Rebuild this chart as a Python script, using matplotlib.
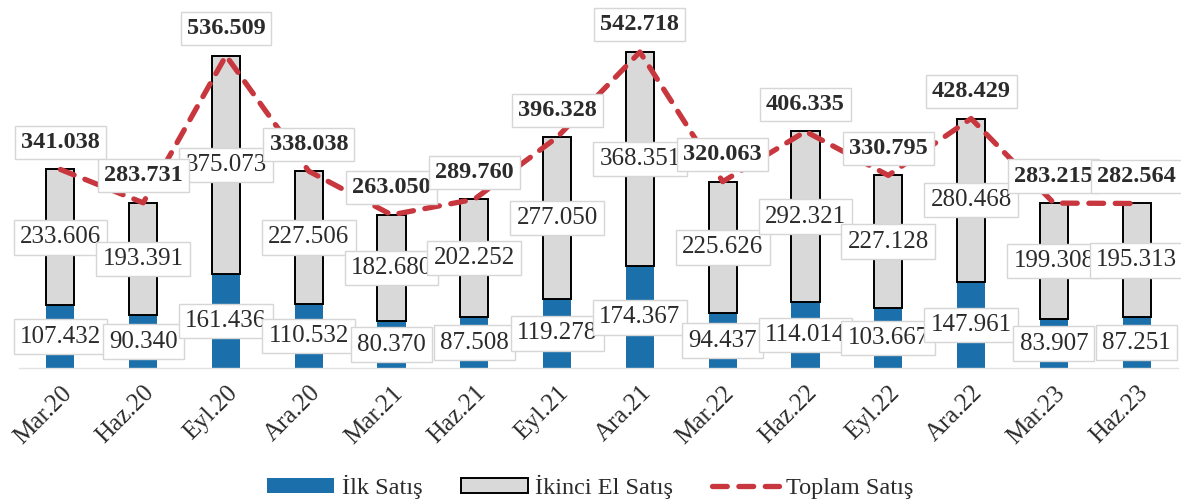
import matplotlib
matplotlib.use("Agg")
import matplotlib.pyplot as plt
import numpy as np

# veriler (bin adet)
donemler = ["Mar.20", "Haz.20", "Eyl.20", "Ara.20", "Mar.21", "Haz.21", "Eyl.21",
            "Ara.21", "Mar.22", "Haz.22", "Eyl.22", "Ara.22", "Mar.23", "Haz.23"]
ilk_satis = [107.432, 90.340, 161.436, 110.532, 80.370, 87.508, 119.278,
             174.367, 94.437, 114.014, 103.667, 147.961, 83.907, 87.251]
ikinci_el = [233.606, 193.391, 375.073, 227.506, 182.680, 202.252, 277.050,
             368.351, 225.626, 292.321, 227.128, 280.468, 199.308, 195.313]
toplam = [341.038, 283.731, 536.509, 338.038, 263.050, 289.760, 396.328,
          542.718, 320.063, 406.335, 330.795, 428.429, 283.215, 282.564]

MAVI = "#1b6fab"
GRI = "#d9d9d9"
KIRMIZI = "#c8363e"
YAZI = "#2b2b2b"

plt.rcParams["font.family"] = ["Liberation Serif", "DejaVu Serif"]

fig = plt.figure(figsize=(11.81, 5.04), dpi=100)
ax = fig.add_axes([0.0161, 0.2698, 0.9814, 0.7302])

x = np.arange(len(donemler))
genislik = 0.34

b1 = ax.bar(x, ilk_satis, genislik, color=MAVI, zorder=2, label="İlk Satış")
b2 = ax.bar(x, ikinci_el, genislik, bottom=ilk_satis, color=GRI, edgecolor="black",
            linewidth=1.4, zorder=2, label="İkinci El Satış")
l1, = ax.plot(x, toplam, color=KIRMIZI, linewidth=3.8, linestyle=(0, (2.8, 2.2)),
              dash_capstyle="round", zorder=3, label="Toplam Satış")

kutu = dict(boxstyle="square,pad=0.25", facecolor="white", edgecolor="#d6d6d6", linewidth=1)

# etiketler
for i in range(len(donemler)):
    ax.text(x[i], ilk_satis[i] / 2, f"{ilk_satis[i]:.3f}", ha="center", va="center",
            fontsize=18, color=YAZI, bbox=kutu, zorder=5)
    ax.text(x[i], ilk_satis[i] + ikinci_el[i] / 2, f"{ikinci_el[i]:.3f}", ha="center",
            va="center", fontsize=18, color=YAZI, bbox=kutu, zorder=5)
    ax.annotate(f"{toplam[i]:.3f}", (x[i], toplam[i]), xytext=(0, 19.5),
                textcoords="offset points", ha="center", va="center", fontsize=17.5,
                fontweight="bold", color=YAZI, bbox=kutu, zorder=6)

ax.set_xlim(-0.5, len(donemler) - 0.5)
ax.set_ylim(0, 632)
ax.set_yticks([])
ax.set_xticks(x)
ax.set_xticklabels(donemler, rotation=45, ha="right", rotation_mode="anchor",
                   fontsize=18, color=YAZI)
ax.tick_params(axis="x", length=0, pad=10)
for s in ["top", "left", "right"]:
    ax.spines[s].set_visible(False)
ax.spines["bottom"].set_color("#e2e2e2")
ax.spines["bottom"].set_linewidth(1)

fig.legend([b1, b2, l1], ["İlk Satış", "İkinci El Satış", "Toplam Satış"],
           loc="center", bbox_to_anchor=(0.5, 0.034), ncol=3, frameon=False,
           fontsize=17.5, handlelength=2.75, handleheight=0.6, handletextpad=0.3,
           columnspacing=1.6, labelcolor=YAZI)

fig.savefig("out.png", dpi=100)
